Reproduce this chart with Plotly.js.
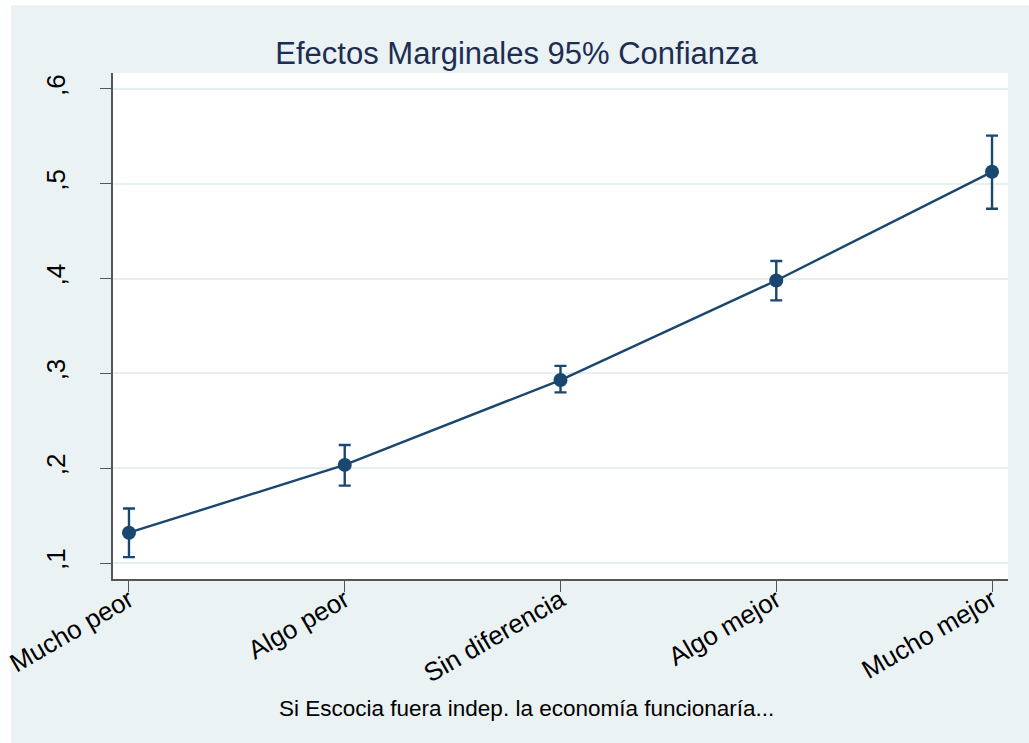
<!DOCTYPE html>
<html>
<head>
<meta charset="utf-8">
<script src="https://cdn.plot.ly/plotly-3.0.1.min.js"></script>
<style>
  html, body { margin: 0; padding: 0; background: #ffffff; }
  #chart { position: absolute; left: 0; top: 0; width: 1029px; height: 743px; }
</style>
</head>
<body>
<div id="chart"></div>
<script>
// Data
const categories = ["Mucho peor", "Algo peor", "Sin diferencia", "Algo mejor", "Mucho mejor"];
const estimates  = [0.132, 0.2035, 0.293, 0.398, 0.5126];
const lowerCI    = [0.1063, 0.1817, 0.280, 0.377, 0.4737];
const upperCI    = [0.1575, 0.2245, 0.308, 0.4185, 0.5508];
const yTickVals  = [0.1, 0.2, 0.3, 0.4, 0.5, 0.6];
const yTickText  = [",1", ",2", ",3", ",4", ",5", ",6"];
const titleText  = "Efectos Marginales 95% Confianza";
const xTitleText = "Si Escocia fuera indep. la economía funcionaría...";

const xIdx = categories.map((c, i) => i);
const errPlus  = upperCI.map((u, i) => u - estimates[i]);
const errMinus = estimates.map((e, i) => e - lowerCI[i]);

const navy = "#1a476f";
const bg = "#eaf2f3";
const font = "Liberation Sans, Arial, sans-serif";

const trace = {
  x: xIdx,
  y: estimates,
  type: "scatter",
  mode: "lines+markers",
  line: { color: navy, width: 2.4 },
  marker: { color: navy, size: 14 },
  error_y: {
    type: "data",
    symmetric: false,
    array: errPlus,
    arrayminus: errMinus,
    color: navy,
    thickness: 2.4,
    width: 6
  },
  hoverinfo: "x+y"
};

const layout = {
  paper_bgcolor: "#ffffff",
  plot_bgcolor: "#ffffff",
  margin: { l: 113, r: 21, t: 73, b: 164 },
  showlegend: false,
  font: { family: font, color: "#000000" },
  title: {
    text: titleText,
    font: { family: font, size: 31, color: "#1e2d53" },
    xref: "container", yref: "container",
    x: 0.502, xanchor: "center",
    y: 0.9287, yanchor: "middle"
  },
  shapes: [
    { type: "rect", xref: "paper", yref: "paper", layer: "below",
      x0: -0.114, x1: 1.03, y0: -0.33, y1: 1.134,
      fillcolor: bg, line: { width: 0 } },
    { type: "rect", xref: "paper", yref: "paper", layer: "below",
      x0: 0, x1: 1, y0: 0, y1: 1,
      fillcolor: "#ffffff", line: { width: 0 } }
  ],
  xaxis: {
    range: [-0.074, 4.074],
    tickvals: xIdx,
    ticktext: categories,
    tickangle: -30,
    tickfont: { family: font, size: 26, color: "#000000" },
    ticks: "outside",
    ticklen: 11,
    tickwidth: 1.3,
    tickcolor: "#555555",
    ticklabelstandoff: -17,
    showline: true,
    linecolor: "#555555",
    linewidth: 1.6,
    showgrid: false,
    zeroline: false,
    fixedrange: true
  },
  yaxis: {
    range: [0.0832, 0.6168],
    tickvals: yTickVals,
    ticktext: yTickText,
    tickangle: -90,
    tickfont: { family: font, size: 26, color: "#000000" },
    ticks: "outside",
    ticklen: 11,
    tickwidth: 1.3,
    tickcolor: "#555555",
    ticklabelstandoff: 25,
    showline: true,
    linecolor: "#555555",
    linewidth: 1.6,
    showgrid: true,
    gridcolor: "#e6eff1",
    gridwidth: 2,
    zeroline: false,
    fixedrange: true
  },
  annotations: [{
    text: xTitleText,
    xref: "paper", yref: "paper",
    x: 0.462, xanchor: "center",
    y: -0.255, yanchor: "middle",
    showarrow: false,
    font: { family: font, size: 22.5, color: "#000000" }
  }]
};

Plotly.newPlot("chart", [trace], layout, { displayModeBar: false, responsive: false });
</script>
</body>
</html>
